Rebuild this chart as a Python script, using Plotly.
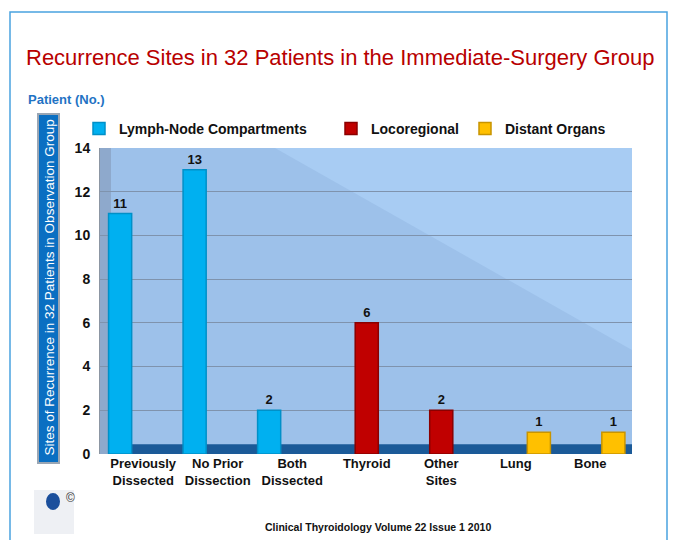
import plotly.graph_objects as go

categories = ["Previously<br>Dissected", "No Prior<br>Dissection", "Both<br>Dissected",
              "Thyroid", "Other<br>Sites", "Lung", "Bone"]
lymph = [11, 13, 2, None, None, None, None]
loco = [None, None, None, 6, 2, None, None]
distant = [None, None, None, None, None, 1, 1]
y_ticks = [0, 2, 4, 6, 8, 10, 12, 14]

W, H = 678, 540
L, R, T, B = 100, 46, 148, 86
PW, PH = W - L - R, H - T - B

def px(x):
    return (x - L) / PW

def py(y):
    return (H - B - y) / PH

FONT = "Liberation Sans, Arial"

fig = go.Figure()
series = [("Lymph-Node Compartments", lymph, "#00b0f0", "#0090c8", "legend", 79),
          ("Locoregional", loco, "#c00000", "#8a0000", "legend2", 331),
          ("Distant Organs", distant, "#ffc000", "#c89400", "legend3", 465)]
for name, vals, col, edge, lg, _ in series:
    fig.add_trace(go.Bar(
        x=categories, y=vals, name=name, legend=lg,
        marker=dict(color=col, line=dict(color=edge, width=1.5)),
        text=[("" if v is None else str(v)) for v in vals],
        textposition="outside", cliponaxis=False,
        textfont=dict(family=FONT, size=13, color="#111111", weight="bold"),
    ))

shapes = []
shapes.append(dict(type="path", xref="paper", yref="paper",
                   path=f"M {px(275)} 1 L 1 1 L 1 {py(350)} Z",
                   fillcolor="#a8ccf3", line=dict(width=0), layer="below"))
shapes.append(dict(type="rect", xref="paper", yref="paper",
                   x0=0, x1=px(111), y0=0, y1=1,
                   fillcolor="#8ea9cc", line=dict(width=0), layer="below"))
shapes.append(dict(type="rect", xref="paper", yref="y",
                   x0=px(111), x1=1, y0=0, y1=0.45,
                   fillcolor="#1b5a98", line=dict(width=0), layer="below"))
shapes.append(dict(type="rect", xref="paper", yref="paper",
                   x0=px(38), x1=px(59), y0=py(463), y1=py(114),
                   fillcolor="#0a6fc2", line=dict(color="#9aa6b4", width=2)))
shapes.append(dict(type="rect", xref="paper", yref="paper",
                   x0=px(10), x1=px(667), y0=py(560), y1=py(12),
                   line=dict(color="#4aa3df", width=1.5)))
shapes.append(dict(type="rect", xref="paper", yref="paper",
                   x0=px(34), x1=px(74), y0=py(534), y1=py(490),
                   fillcolor="#eef0f4", line=dict(width=0)))
shapes.append(dict(type="circle", xref="paper", yref="paper",
                   x0=px(46), x1=px(60), y0=py(510), y1=py(493),
                   fillcolor="#1b4f9c", line=dict(width=0)))

def ann(text, x, y, size, color, weight="normal", xanchor="center", angle=0):
    return dict(text=text, x=px(x), y=py(y), xref="paper", yref="paper",
                xanchor=xanchor, yanchor="middle", showarrow=False, textangle=angle,
                font=dict(family=FONT, size=size, color=color, weight=weight))

annotations = [
    ann("Recurrence Sites in 32 Patients in the Immediate-Surgery Group", 340, 58, 22, "#b80000"),
    ann("Patient (No.)", 26, 100, 13, "#1f73c4", "bold", "left"),
    ann("Sites of Recurrence in 32 Patients in Observation Group", 48.5, 288, 13.5, "white", angle=-90),
    ann("Clinical Thyroidology Volume 22 Issue 1 2010", 378, 527, 10.5, "#111111", "bold"),
    ann("©", 70, 498, 12, "#333333"),
]

legend_common = dict(orientation="h", yanchor="middle", xanchor="left",
                     font=dict(family=FONT, size=14, color="#111111", weight="bold"),
                     bgcolor="rgba(0,0,0,0)", itemwidth=30)

fig.update_layout(
    width=W, height=H,
    margin=dict(l=L, r=R, t=T, b=B, autoexpand=False),
    paper_bgcolor="white", plot_bgcolor="#9dc1ea",
    barmode="group", bargap=0.07, bargroupgap=0,
    showlegend=True,
    legend=dict(x=px(series[0][5]), y=py(129), **legend_common),
    legend2=dict(x=px(series[1][5]), y=py(129), **legend_common),
    legend3=dict(x=px(series[2][5]), y=py(129), **legend_common),
    xaxis=dict(type="category", range=[-0.58, 6.56], showgrid=False, zeroline=False,
               showline=False, ticks="", tickangle=0,
               tickfont=dict(family=FONT, size=13, color="#111111", weight="bold")),
    yaxis=dict(range=[0, 14], tickvals=y_ticks, showgrid=True, gridcolor="#7f93ad",
               gridwidth=1, zeroline=False, showline=True, linecolor="#8c96a3",
               ticks="", tickfont=dict(family=FONT, size=14, color="#111111", weight="bold"),
               ticklabelstandoff=6),
    shapes=shapes, annotations=annotations,
    font=dict(family=FONT),
)
fig.write_html("out.html", config={"displayModeBar": False},
               post_script="document.body.style.margin='0';")
